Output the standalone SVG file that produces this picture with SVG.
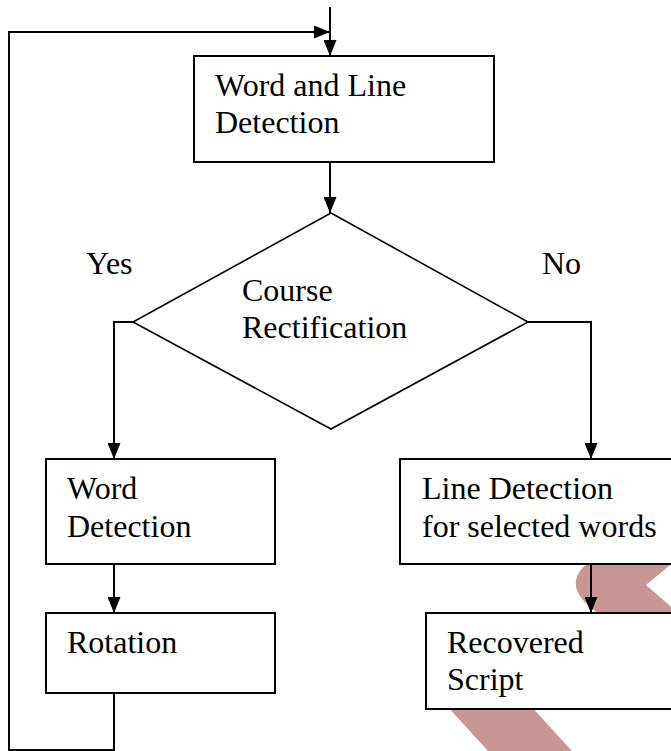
<svg xmlns="http://www.w3.org/2000/svg" width="671" height="751" viewBox="0 0 671 751">
  <defs>
    <marker id="ah" viewBox="0 0 16 13" refX="16" refY="6.5" markerWidth="16" markerHeight="13" markerUnits="userSpaceOnUse" orient="auto">
      <path d="M0,0 L16,6.5 L0,13 Z" fill="#000"/>
    </marker>
  </defs>
  <style>
    .box { fill: #fff; stroke: #000; stroke-width: 2; }
    .dia { fill: none; stroke: #000; stroke-width: 1.6; }
    .conn { fill: none; stroke: #000; stroke-width: 2; }
    .arr { marker-end: url(#ah); }
    text { font-size: 32px; fill: #000; }
    .wm { fill: #c99696; }
  </style>
  <rect width="671" height="751" fill="#fff"/>
  <g id="watermark">
    <path class="wm" d="M592,560 Q555,585 602,616 L676,616 L676,611 L646,585 L676,560 Z"/>
    <polygon class="wm" points="446,705 530,705 572,751 488,751"/>
  </g>
  <g id="connectors">
    <line class="conn arr" x1="330" y1="7" x2="330" y2="56"/>
    <path class="conn arr" d="M114,693 V750 H9 V32 H330"/>
    <line class="conn arr" x1="330" y1="162" x2="330" y2="213"/>
    <path class="conn arr" d="M133,322 H114 V459"/>
    <path class="conn arr" d="M528,322 H591 V459"/>
    <line class="conn arr" x1="114" y1="564" x2="114" y2="613"/>
    <line class="conn arr" x1="591" y1="564" x2="591" y2="613"/>
  </g>
  <g font-family="'Liberation Serif', 'Times New Roman', 'DejaVu Serif', serif">
    <g id="word-line-detection">
      <rect class="box" x="194" y="56" width="300" height="106"/>
      <text x="215" y="96">Word and Line</text>
      <text x="215" y="133">Detection</text>
    </g>
    <g id="course-rectification">
      <polygon class="dia" points="331,213 528,322 331,429 133,322"/>
      <text x="242" y="301">Course</text>
      <text x="242" y="338">Rectification</text>
    </g>
    <g id="label-yes"><text x="86" y="274">Yes</text></g>
    <g id="label-no"><text x="542" y="274">No</text></g>
    <g id="word-detection">
      <rect class="box" x="46" y="459" width="229" height="105"/>
      <text x="67" y="499">Word</text>
      <text x="67" y="537">Detection</text>
    </g>
    <g id="rotation">
      <rect class="box" x="46" y="613" width="229" height="80"/>
      <text x="67" y="653">Rotation</text>
    </g>
    <g id="line-detection">
      <rect class="box" x="400" y="459" width="280" height="105"/>
      <text x="422" y="499">Line Detection</text>
      <text x="422" y="537">for selected words</text>
    </g>
    <g id="recovered-script">
      <rect class="box" x="426" y="613" width="254" height="96"/>
      <text x="447" y="653">Recovered</text>
      <text x="447" y="690">Script</text>
    </g>
  </g>
</svg>
